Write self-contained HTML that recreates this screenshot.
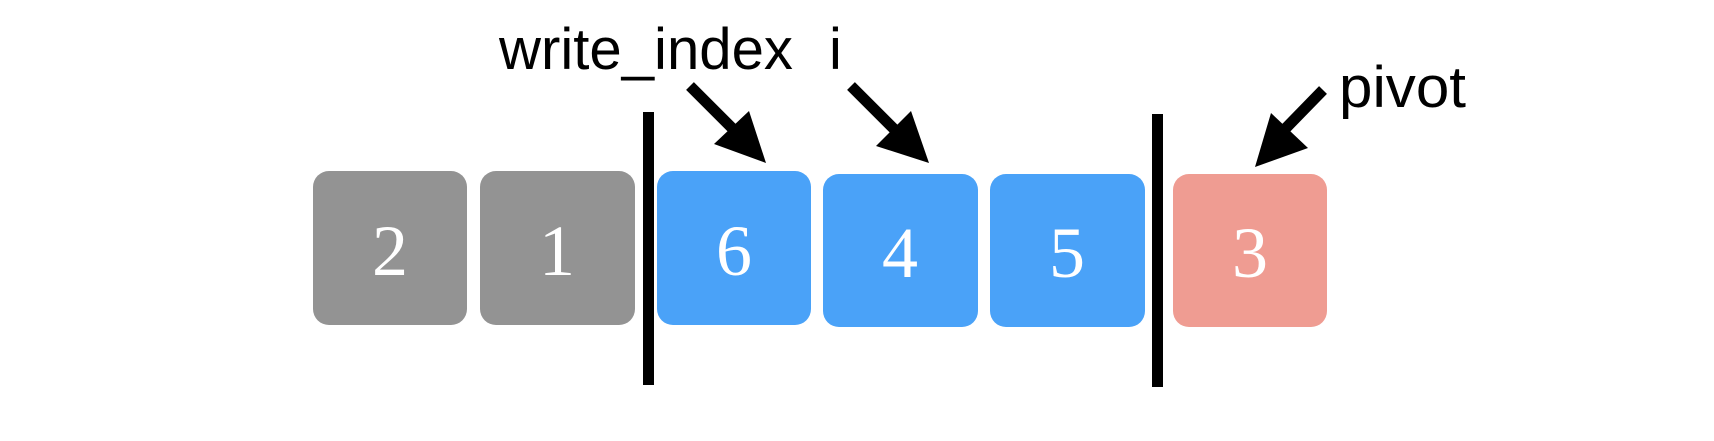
<!DOCTYPE html>
<html><head><meta charset="utf-8"><style>
body{margin:0;background:#fff;width:1714px;height:436px;overflow:hidden}
svg text{font-family:"Liberation Sans",sans-serif}
</style></head><body>
<svg width="1714" height="436" viewBox="0 0 1714 436">
<g><rect x="313" y="171" width="154" height="154" rx="16" fill="#939393"/><text x="390" y="275" text-anchor="middle" fill="#fff" font-size="72" style="font-family:'Liberation Serif',serif">2</text></g>
<g><rect x="480" y="171" width="155" height="154" rx="16" fill="#939393"/><text x="557" y="275" text-anchor="middle" fill="#fff" font-size="72" style="font-family:'Liberation Serif',serif">1</text></g>
<g><rect x="657" y="171" width="154" height="154" rx="16" fill="#4aa2f8"/><text x="734" y="275" text-anchor="middle" fill="#fff" font-size="72" style="font-family:'Liberation Serif',serif">6</text></g>
<g><rect x="823" y="174" width="155" height="153" rx="16" fill="#4aa2f8"/><text x="900" y="277" text-anchor="middle" fill="#fff" font-size="72" style="font-family:'Liberation Serif',serif">4</text></g>
<g><rect x="990" y="174" width="155" height="153" rx="16" fill="#4aa2f8"/><text x="1067" y="277" text-anchor="middle" fill="#fff" font-size="72" style="font-family:'Liberation Serif',serif">5</text></g>
<g><rect x="1173" y="174" width="154" height="153" rx="16" fill="#ef9c92"/><text x="1250" y="277" text-anchor="middle" fill="#fff" font-size="72" style="font-family:'Liberation Serif',serif">3</text></g>
<rect x="643" y="112" width="11" height="273" fill="#000"/>
<rect x="1152" y="114" width="11" height="273" fill="#000"/>
<text x="499" y="69" font-size="58" textLength="294" lengthAdjust="spacingAndGlyphs">write_index</text>
<text x="829" y="69" font-size="58">i</text>
<text x="1339" y="107" font-size="58" textLength="127" lengthAdjust="spacingAndGlyphs">pivot</text>
<g>
<line x1="690" y1="86" x2="735" y2="131" stroke="#000" stroke-width="11"/>
<polygon points="766,163 714,144 749,111" fill="#000"/></g>
<g>
<line x1="851" y1="86" x2="897" y2="132" stroke="#000" stroke-width="11"/>
<polygon points="929,163 876,146 911,111" fill="#000"/></g>
<g>
<line x1="1323" y1="90" x2="1286" y2="128" stroke="#000" stroke-width="11"/>
<polygon points="1255,167 1271,113 1308,148" fill="#000"/></g>
</svg>
</body></html>
